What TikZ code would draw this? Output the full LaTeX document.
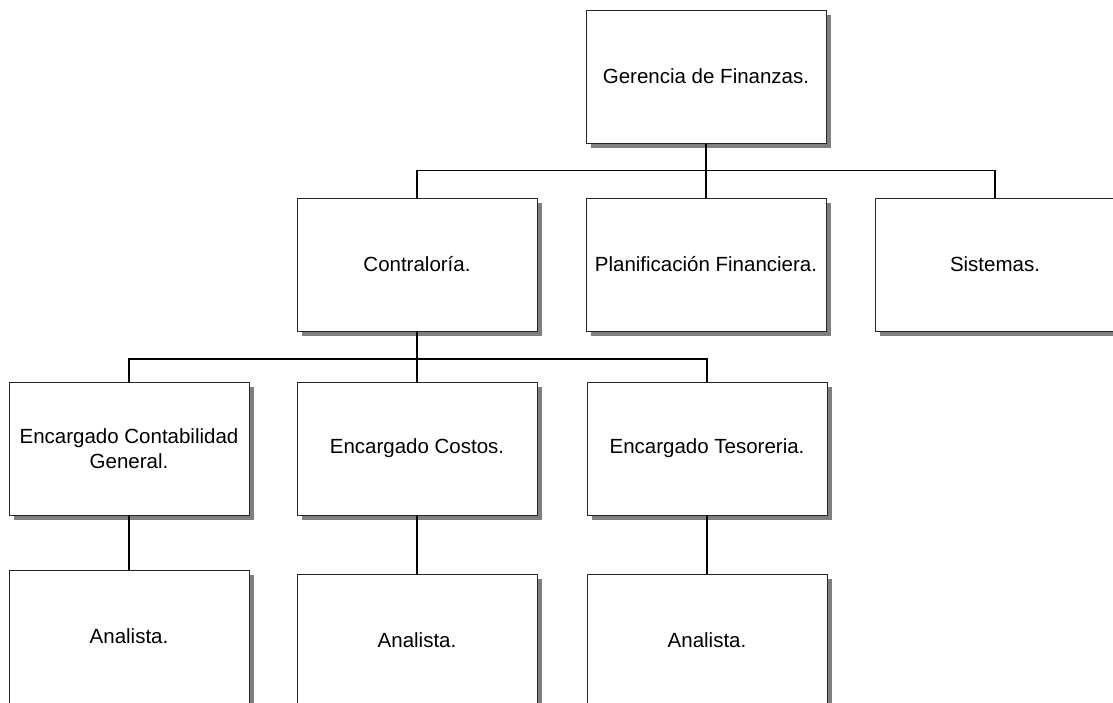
\documentclass[tikz,border=0pt]{standalone}
\usepackage{fontspec}
\setmainfont{Liberation Sans}
\usetikzlibrary{calc, positioning, shadows}

\begin{document}
\begin{tikzpicture}[x=1pt, y=-1pt,
  every node/.style={draw=black!85, line width=1pt, fill=white, rectangle,
    minimum width=240pt, minimum height=133pt, align=center,
    font=\fontsize{20.5}{25}\selectfont,
    drop shadow={shadow xshift=5pt, shadow yshift=-5pt, fill=black!50, opacity=1}},
  conn/.style={line width=1.5pt}]
\useasboundingbox (0,0) rectangle (1113,702);
\clip (0,0) rectangle (1113,702);

  \node (G) at (706,76.5) {Gerencia de Finanzas.};
  \node (P) [below=54pt of G] {Planificación Financiera.};
  \node (C) [left=48pt of P] {Contraloría.};
  \node (S) [right=48pt of P] {Sistemas.};
  \node (B) [below=50pt of C] {Encargado Costos.};
  \node (A) [left=47pt of B] {Encargado Contabilidad\\General.};
  \node (T) [right=49pt of B] {Encargado Tesoreria.};
  \node (A1) [below=54pt of A] {Analista.};
  \node (B1) [below=58pt of B] {Analista.};
  \node (T1) [below=58pt of T] {Analista.};

  \draw[conn] (G.south) -- (P.north);
  \draw[conn] (C.north) |- ($(G.south)!.5!(P.north)$) -| (S.north);
  \draw[conn] (C.south) -- (B.north);
  \draw[conn] (A.north) |- ($(C.south)!.55!(B.north)$) -| (T.north);
  \draw[conn] (A.south) -- (A1.north);
  \draw[conn] (B.south) -- (B1.north);
  \draw[conn] (T.south) -- (T1.north);
\end{tikzpicture}
\end{document}
